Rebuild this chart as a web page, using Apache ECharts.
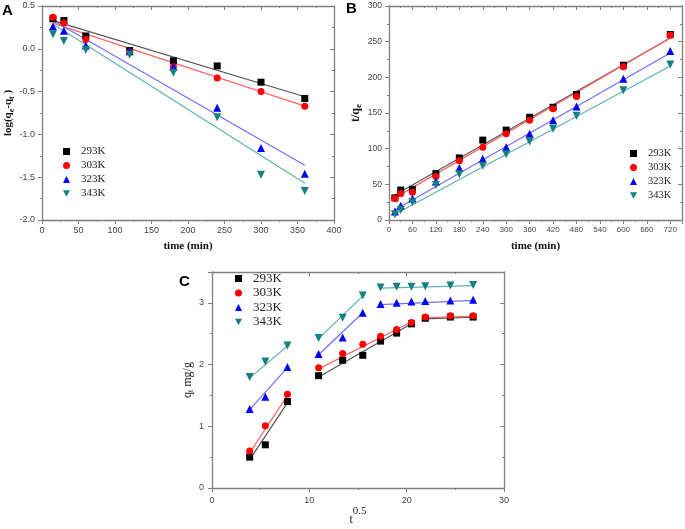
<!DOCTYPE html>
<html>
<head>
<meta charset="utf-8">
<script src="https://cdn.jsdelivr.net/npm/echarts@6/dist/echarts.min.js"></script>
<style>
html, body { margin: 0; padding: 0; background: #fff; }
#main { width: 685px; height: 529px; }
</style>
</head>
<body>
<div id="main"></div>
<script>
// ---- values ----
const temps = ['293K', '303K', '323K', '343K'];

// A: log(qe-qt) against time (min)
const tA = [15, 30, 60, 120, 180, 240, 300, 360];
const logA293 = [0.35, 0.33, 0.15, -0.02, -0.14, -0.20, -0.39, -0.58];
const logA303 = [0.37, 0.30, 0.11, -0.04, -0.21, -0.34, -0.50, -0.67];
const logA323 = [0.26, 0.21, 0.04, -0.03, -0.21, -0.69, -1.16, -1.46];
const logA343 = [0.17, 0.09, -0.01, -0.07, -0.28, -0.80, -1.47, -1.66];
// fitted lines (end points)
const fitA293 = [[15, 0.33], [360, -0.56]];
const fitA303 = [[15, 0.30], [360, -0.67]];
const fitA323 = [[15, 0.33], [360, -1.36]];
const fitA343 = [[15, 0.29], [360, -1.57]];

// B: t/qe against time (min)
const tB = [15, 30, 60, 120, 180, 240, 300, 360, 420, 480, 600, 720];
const tqB293 = [31, 42, 43, 65, 87, 112, 126, 144, 158, 176, 217, 260];
const tqB303 = [30, 37, 39, 61, 83, 102, 121, 140, 156, 173, 215, 259];
const tqB323 = [12, 20, 30, 54, 73, 86, 102, 121, 140, 159, 198, 237];
const tqB343 = [8, 14, 25, 49, 64, 76, 92, 110, 128, 146, 182, 218];
const fitB293 = [[15, 35], [720, 255]];
const fitB303 = [[15, 31], [720, 255]];
const fitB323 = [[15, 14], [720, 234]];
const fitB343 = [[15, 8], [720, 216]];

// C: qt against t^0.5
const sqrtT = [3.87, 5.48, 7.75, 10.95, 13.42, 15.49, 17.32, 18.97, 20.49, 21.91, 24.49, 26.83];
const qC293 = [0.50, 0.70, 1.40, 1.82, 2.07, 2.15, 2.38, 2.51, 2.66, 2.75, 2.77, 2.77];
const qC303 = [0.60, 1.01, 1.52, 1.95, 2.18, 2.33, 2.46, 2.57, 2.68, 2.77, 2.79, 2.79];
const qC323 = [1.28, 1.48, 1.96, 2.17, 2.44, 2.84, 2.98, 3.00, 3.02, 3.03, 3.04, 3.05];
const qC343 = [1.80, 2.05, 2.31, 2.43, 2.76, 3.12, 3.25, 3.26, 3.26, 3.27, 3.28, 3.29];
// three fitted segments per temperature
const fitC293 = [[[3.87, 0.46], [7.75, 1.38]], [[10.95, 1.80], [20.49, 2.66]], [[21.91, 2.74], [26.83, 2.77]]];
const fitC303 = [[[3.87, 0.57], [7.75, 1.50]], [[10.95, 1.93], [20.49, 2.69]], [[21.91, 2.76], [26.83, 2.78]]];
const fitC323 = [[[3.87, 1.27], [7.75, 1.95]], [[10.95, 2.16], [15.49, 2.84]], [[17.32, 2.97], [26.83, 3.04]]];
const fitC343 = [[[3.87, 1.78], [7.75, 2.30]], [[10.95, 2.42], [15.49, 3.11]], [[17.32, 3.24], [26.83, 3.28]]];

// ---- styles ----
const colors = ['#000000', '#ff0000', '#0000ff', '#16807f'];
const lineColors = ['#555555', '#ff6464', '#6e6eff', '#5fb2b2'];
const symbols = ['rect', 'circle', 'triangle', 'path://M0,0L10,0L5,9Z'];
const sizes = [7, 7, 8, 8];
const axisGrey = '#808080';
const sans = 'Liberation Sans';
const serif = 'Liberation Serif';

function zip(xs, ys) {
  return xs.map((x, i) => [x, ys[i]]);
}

function mainX(grid, min, max, interval, fontSize, extra) {
  return Object.assign({
    type: 'value', gridIndex: grid, position: 'bottom', min: min, max: max, interval: interval,
    axisLine: { show: true, onZero: false, lineStyle: { color: axisGrey, width: 1.3 } },
    axisTick: { show: true, inside: false, length: 4, lineStyle: { color: axisGrey } },
    minorTick: { show: true, splitNumber: 2, length: 2, lineStyle: { color: axisGrey } },
    axisLabel: { show: true, color: '#444', fontFamily: sans, fontSize: fontSize, margin: 6 },
    splitLine: { show: false },
    nameLocation: 'middle'
  }, extra || {});
}
function mirrorX(grid, min, max, interval) {
  return {
    type: 'value', gridIndex: grid, position: 'top', min: min, max: max, interval: interval,
    axisLine: { show: true, onZero: false, lineStyle: { color: axisGrey, width: 1.3 } },
    axisTick: { show: true, inside: true, length: 4, lineStyle: { color: axisGrey } },
    minorTick: { show: true, splitNumber: 2, length: 2, lineStyle: { color: axisGrey } },
    axisLabel: { show: false },
    splitLine: { show: false }
  };
}
function mainY(grid, min, max, interval, fontSize, extra) {
  return Object.assign({
    type: 'value', gridIndex: grid, position: 'left', min: min, max: max, interval: interval,
    axisLine: { show: true, onZero: false, lineStyle: { color: axisGrey, width: 1.3 } },
    axisTick: { show: true, inside: false, length: 4, lineStyle: { color: axisGrey } },
    minorTick: { show: true, splitNumber: 2, length: 2, lineStyle: { color: axisGrey } },
    axisLabel: { show: true, color: '#444', fontFamily: sans, fontSize: fontSize, margin: 7 },
    splitLine: { show: false },
    nameLocation: 'middle'
  }, extra || {});
}
function mirrorY(grid, min, max, interval) {
  return {
    type: 'value', gridIndex: grid, position: 'right', min: min, max: max, interval: interval,
    axisLine: { show: true, onZero: false, lineStyle: { color: axisGrey, width: 1.3 } },
    axisTick: { show: true, inside: true, length: 4, lineStyle: { color: axisGrey } },
    minorTick: { show: true, splitNumber: 2, length: 2, lineStyle: { color: axisGrey } },
    axisLabel: { show: false },
    splitLine: { show: false }
  };
}

function scatter(grid, k, data) {
  return {
    type: 'scatter', name: temps[k], xAxisIndex: grid * 2, yAxisIndex: grid * 2,
    data: data, symbol: symbols[k], symbolSize: sizes[k], z: 4,
    itemStyle: { color: colors[k], opacity: 1 }
  };
}
function fitLine(grid, k, data, id) {
  return {
    type: 'line', name: 'fit' + id, xAxisIndex: grid * 2, yAxisIndex: grid * 2,
    data: data, symbol: 'none', silent: true, z: 2,
    lineStyle: { color: lineColors[k], width: 1.2 }
  };
}
function legendAt(left, top, gap, fontSize) {
  return {
    orient: 'vertical', left: left, top: top, itemGap: gap, itemWidth: 7, itemHeight: 7,
    selectedMode: false, padding: 0,
    data: temps.map((n, i) => ({ name: n, icon: symbols[i], itemStyle: { color: colors[i] } })),
    textStyle: { fontFamily: serif, fontSize: fontSize, color: '#222', padding: [0, 0, 0, 6] }
  };
}

const series = [];
[logA293, logA303, logA323, logA343].forEach((ys, k) => series.push(scatter(0, k, zip(tA, ys))));
[fitA293, fitA303, fitA323, fitA343].forEach((d, k) => series.push(fitLine(0, k, d, 'A' + k)));
[tqB293, tqB303, tqB323, tqB343].forEach((ys, k) => series.push(scatter(1, k, zip(tB, ys))));
[fitB293, fitB303, fitB323, fitB343].forEach((d, k) => series.push(fitLine(1, k, d, 'B' + k)));
[qC293, qC303, qC323, qC343].forEach((ys, k) => series.push(scatter(2, k, zip(sqrtT, ys))));
[fitC293, fitC303, fitC323, fitC343].forEach((segs, k) => {
  segs.forEach((seg, j) => series.push(fitLine(2, k, seg, 'C' + k + j)));
});

const option = {
  animation: false,
  backgroundColor: '#ffffff',
  title: [
    { text: 'A', left: 2, top: 3, padding: 0, textStyle: { fontFamily: sans, fontWeight: 'bold', fontSize: 15, color: '#000' } },
    { text: 'B', left: 346, top: 1, padding: 0, textStyle: { fontFamily: sans, fontWeight: 'bold', fontSize: 15, color: '#000' } },
    { text: 'C', left: 179, top: 274, padding: 0, textStyle: { fontFamily: sans, fontWeight: 'bold', fontSize: 15, color: '#000' } }
  ],
  legend: [
    legendAt(63, 146, 3, 11),
    legendAt(630, 148, 3, 10.5),
    legendAt(235, 272, 1.5, 13)
  ],
  grid: [
    { left: 42, top: 6, width: 292, height: 214, outerBoundsMode: 'none' },
    { left: 389, top: 6, width: 293, height: 214, outerBoundsMode: 'none' },
    { left: 212, top: 272, width: 292, height: 216, outerBoundsMode: 'none' }
  ],
  xAxis: [
    mainX(0, 0, 400, 50, 9, {
      name: 'time (min)', nameGap: 21,
      nameTextStyle: { fontFamily: serif, fontWeight: 'bold', fontSize: 11, color: '#111' }
    }),
    mirrorX(0, 0, 400, 50),
    mainX(1, 0, 750, 60, 8, {
      name: 'time (min)', nameGap: 21,
      axisLabel: { show: true, color: '#444', fontFamily: sans, fontSize: 8, margin: 6, showMaxLabel: false },
      nameTextStyle: { fontFamily: serif, fontWeight: 'bold', fontSize: 11, color: '#111' }
    }),
    mirrorX(1, 0, 750, 60),
    mainX(2, 0, 30, 10, 9, {
      name: '{t|t}{s|0.5}', nameGap: 15,
      axisLabel: { show: true, color: '#444', fontFamily: sans, fontSize: 9, margin: 8 },
      nameTextStyle: {
        rich: {
          t: { fontFamily: serif, fontSize: 12, color: '#222', lineHeight: 20, verticalAlign: 'bottom' },
          s: { fontFamily: serif, fontSize: 11, color: '#222', lineHeight: 20, verticalAlign: 'top' }
        }
      }
    }),
    mirrorX(2, 0, 30, 10)
  ],
  yAxis: [
    mainY(0, -2, 0.5, 0.5, 9, {
      name: '{b|log(q}{s|e}{b|-q}{s|t}{b| )}', nameGap: 26,
      axisLabel: { show: true, color: '#444', fontFamily: sans, fontSize: 9, margin: 7, formatter: v => v.toFixed(1) },
      nameTextStyle: {
        rich: {
          b: { fontFamily: serif, fontWeight: 'bold', fontSize: 11, color: '#111', lineHeight: 14, verticalAlign: 'middle' },
          s: { fontFamily: serif, fontWeight: 'bold', fontSize: 8, color: '#111', lineHeight: 14, verticalAlign: 'bottom' }
        }
      }
    }),
    mirrorY(0, -2, 0.5, 0.5),
    mainY(1, 0, 300, 50, 8.5, {
      name: '{b|t/q}{s|e}', nameGap: 26,
      nameTextStyle: {
        rich: {
          b: { fontFamily: serif, fontWeight: 'bold', fontSize: 12, color: '#111', lineHeight: 15, verticalAlign: 'middle' },
          s: { fontFamily: serif, fontWeight: 'bold', fontSize: 9, color: '#111', lineHeight: 15, verticalAlign: 'bottom' }
        }
      }
    }),
    mirrorY(1, 0, 300, 50),
    mainY(2, 0, 3.5, 1, 9, {
      name: '{b|q}{s|t}{b| mg/g}', nameGap: 16,
      axisLabel: { show: true, color: '#444', fontFamily: sans, fontSize: 9, margin: 8, showMaxLabel: false },
      nameTextStyle: {
        rich: {
          b: { fontFamily: serif, fontSize: 12, color: '#222', lineHeight: 15, verticalAlign: 'middle' },
          s: { fontFamily: serif, fontSize: 8, color: '#222', lineHeight: 15, verticalAlign: 'bottom' }
        }
      }
    }),
    mirrorY(2, 0, 3.5, 1)
  ],
  series: series
};

const myChart = echarts.init(document.getElementById('main'));
myChart.setOption(option);
</script>
</body>
</html>
